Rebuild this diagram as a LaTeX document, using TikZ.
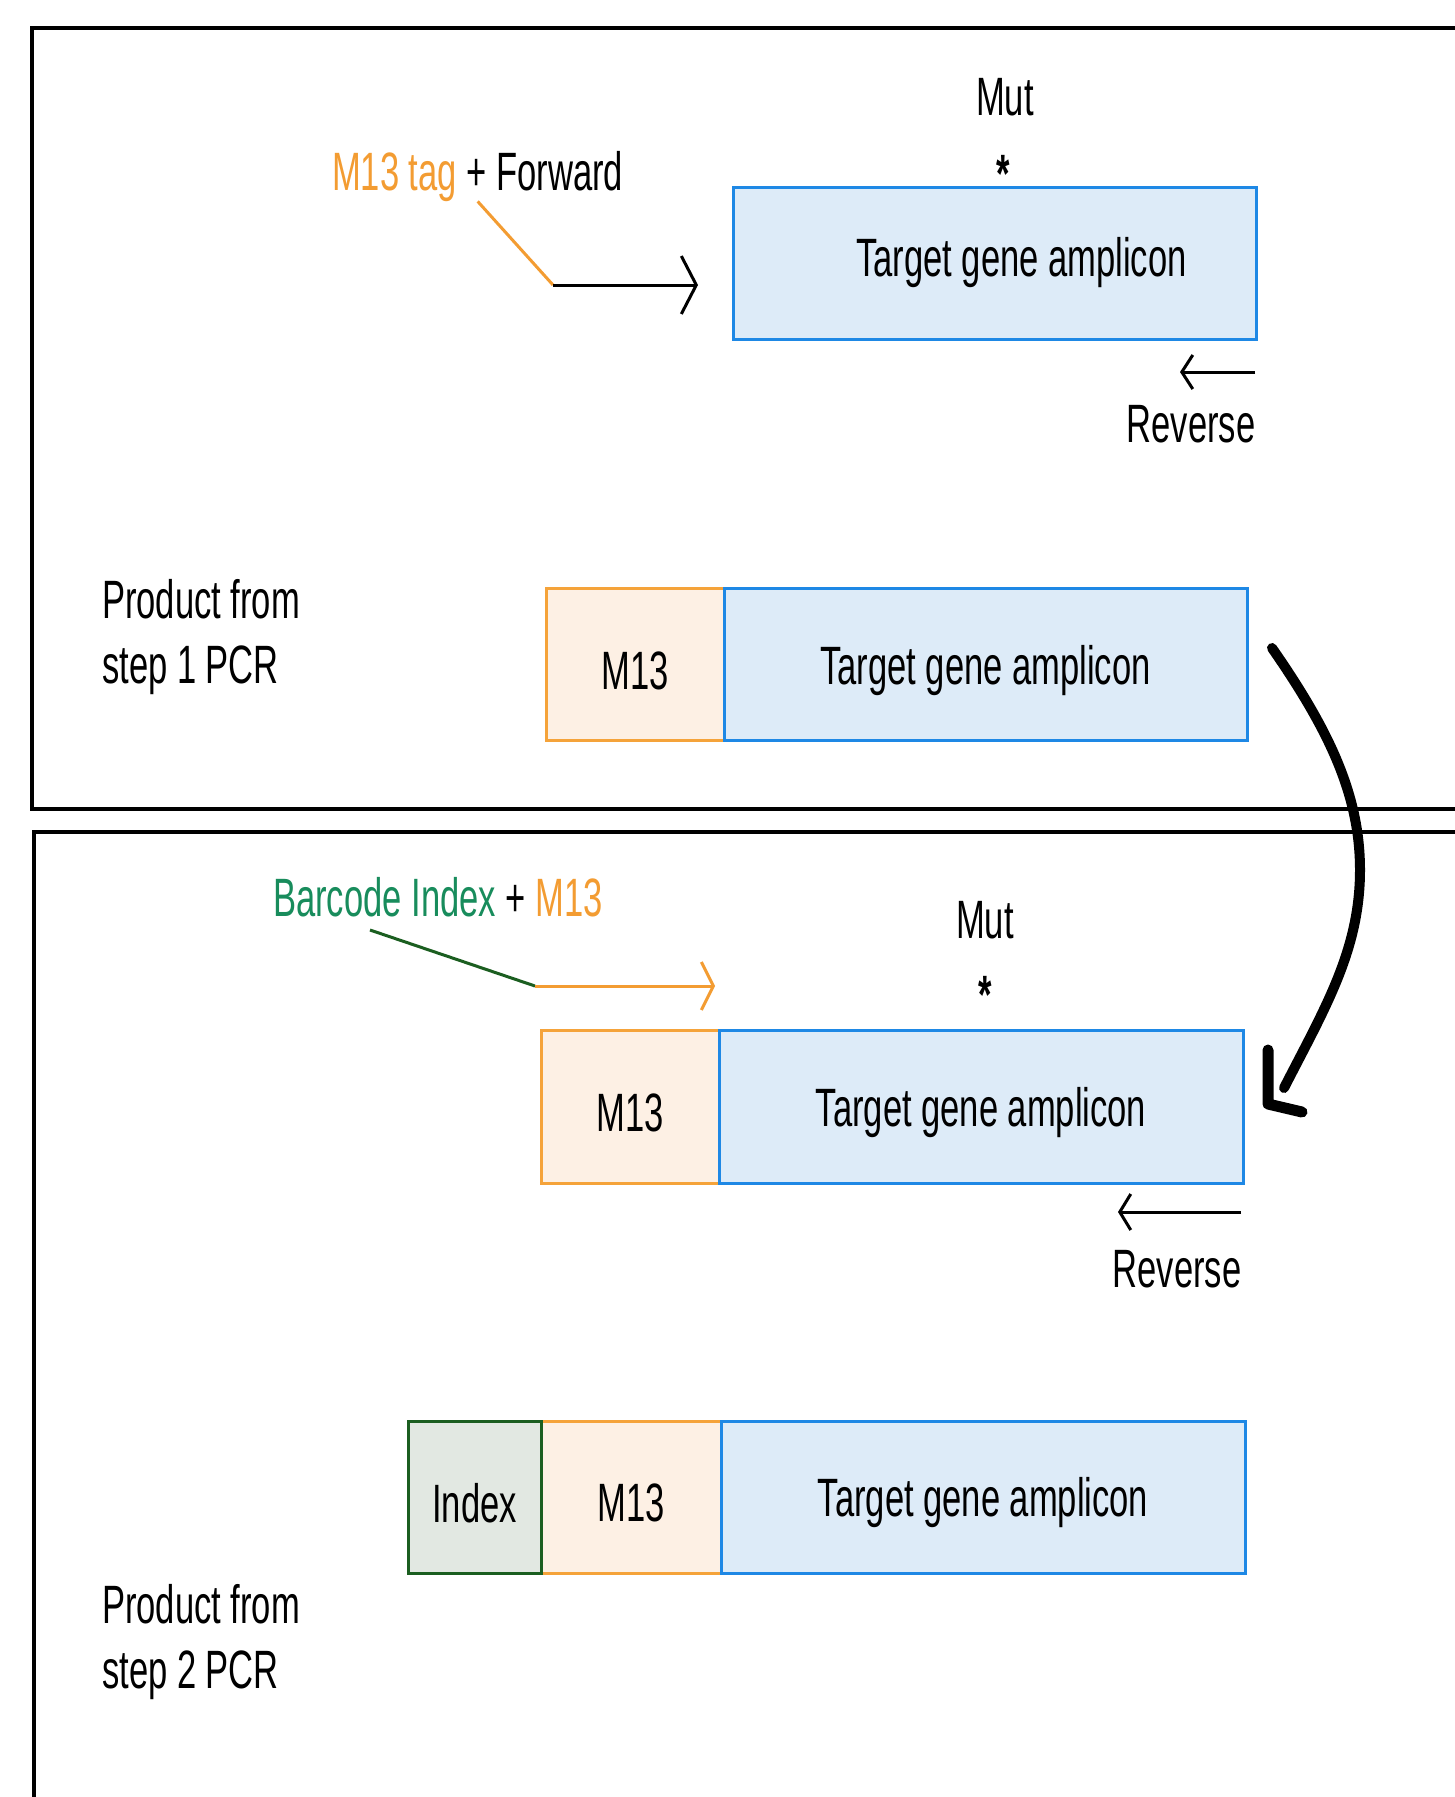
\documentclass[tikz,border=0pt]{standalone}
\usepackage{fontspec}
\setmainfont{Liberation Sans}
\usetikzlibrary{arrows.meta}
\definecolor{bxblue}{RGB}{30,136,229}
\definecolor{fillblue}{RGB}{221,235,248}
\definecolor{bxorange}{RGB}{245,163,58}
\definecolor{fillpeach}{RGB}{253,240,228}
\definecolor{bxgreen}{RGB}{27,94,32}
\definecolor{fillgrey}{RGB}{226,232,226}
\definecolor{txtorange}{RGB}{243,156,50}
\definecolor{txtgreen}{RGB}{24,140,92}
\newcommand\cn[1]{\scalebox{0.64}[1]{#1}}
\newcommand\cnlow[1]{\raisebox{-6pt}[\height][\depth]{\scalebox{0.64}[1]{#1}}}
\begin{document}
\begin{tikzpicture}[x=1pt,y=-1pt,
  lbl/.style={inner sep=0pt, font=\fontsize{54}{65}\selectfont},
  seg/.style={draw, line width=3pt, minimum height=152pt, inner sep=0pt, font=\fontsize{54}{65}\selectfont},
  tgt/.style={seg, draw=bxblue, fill=fillblue},
  mtt/.style={seg, draw=bxorange, fill=fillpeach},
  idx/.style={seg, draw=bxgreen, fill=fillgrey},
  panel/.style={draw=black, line width=3.5pt},
  primer/.style={line width=3pt},
  bigarrow/.style={line width=10pt, line cap=round, line join=round}]
\useasboundingbox (0,0) rectangle (1455,1797);
\clip (0,0) rectangle (1455,1797);
\fill[white] (0,0) rectangle (1455,1797);

% panels
\draw[panel] (32,28) rectangle (1490,809);
\draw[panel] (34,832) rectangle (1490,1840);

% ---------- step 1 ----------
\node[lbl, anchor=base] (mut1) at (1005,115) {\cn{Mut}};
\node[lbl, anchor=north, font=\fontsize{54}{54}\bfseries] (ast1) at (1003,155) {\cn{*}};
\node[tgt, minimum width=523pt] (t1) at (994.5,263) {\hspace*{54pt}\cn{Target gene amplicon}};

\node[lbl, anchor=base west] (fwdlbl) at (332,190) {\cn{\textcolor{txtorange}{M13 tag} + Forward}};
\coordinate (fk) at (553,285);
\coordinate (ft) at (698,285);
\draw[primer, draw=txtorange] (fwdlbl.south) -- (fk);
\draw[primer, -{Straight Barb[length=15pt,width=58pt]}] (fk) -- (ft);

\coordinate (r1s) at (1255,372);
\coordinate (r1e) at (1180,372);
\draw[primer, -{Straight Barb[length=11pt,width=34pt]}] (r1s) -- (r1e);
\node[lbl, anchor=base] (rev1) at (1191,442) {\cn{Reverse}};

\node[lbl, anchor=north west, align=left] (prod1) at (102,579) {\cn{Product from}\\\cn{step 1 PCR}};

\node[mtt, minimum width=178pt] (p1m) at (635,664.5) {\cnlow{M13}};
\node[tgt, minimum width=523pt] (p1t) at (985.5,664.5) {\cnlow{Target gene amplicon}};

% ---------- step 2 ----------
\node[lbl, anchor=base west] (bclbl) at (273,916) {\cn{\textcolor{txtgreen}{Barcode Index} + \textcolor{txtorange}{M13}}};
\coordinate (g1) at (370,930);
\coordinate (g2) at (535,986);
\coordinate (g3) at (715,986);
\draw[primer, draw=bxgreen] (g1) -- (g2);
\draw[primer, draw=txtorange, -{Straight Barb[length=12pt,width=48pt]}] (g2) -- (g3);

\node[lbl, anchor=base] (mut2) at (985,938) {\cn{Mut}};
\node[lbl, anchor=north, font=\fontsize{54}{54}\bfseries] (ast2) at (985,976) {\cn{*}};

\node[mtt, minimum width=178pt, minimum height=153pt] (s2m) at (630,1106.5) {\cnlow{M13}};
\node[tgt, minimum width=524pt, minimum height=153pt] (s2t) at (981,1106.5) {\cnlow{Target gene amplicon}};

\coordinate (r2s) at (1241,1212);
\coordinate (r2e) at (1118,1212);
\draw[primer, -{Straight Barb[length=11pt,width=36pt]}] (r2s) -- (r2e);
\node[lbl, anchor=base] (rev2) at (1177,1287) {\cn{Reverse}};

\node[mtt, minimum width=180pt] (s3m) at (631,1497) {\cnlow{M13}};
\node[idx, minimum width=133pt] (s3i) at (474.5,1497) {\cnlow{Index}};
\node[tgt, minimum width=524pt] (s3t) at (983,1497) {\cnlow{Target gene amplicon}};

\node[lbl, anchor=north west, align=left] (prod2) at (102,1584) {\cn{Product from}\\\cn{step 2 PCR}};

% ---------- big curved arrow ----------
\coordinate (ca) at (1272,648);
\coordinate (cm) at (1360,870);
\coordinate (cb) at (1284,1088);
\coordinate (h1) at (1268,1050);
\coordinate (h2) at (1268,1104);
\coordinate (h3) at (1302,1112);
\draw[bigarrow] (ca) .. controls (1329,730) and (1360,795) .. (cm) .. controls (1360,950) and (1325,1008) .. (cb);
\draw[bigarrow, line width=11pt] (h1) -- (h2) -- (h3);
\end{tikzpicture}
\end{document}
